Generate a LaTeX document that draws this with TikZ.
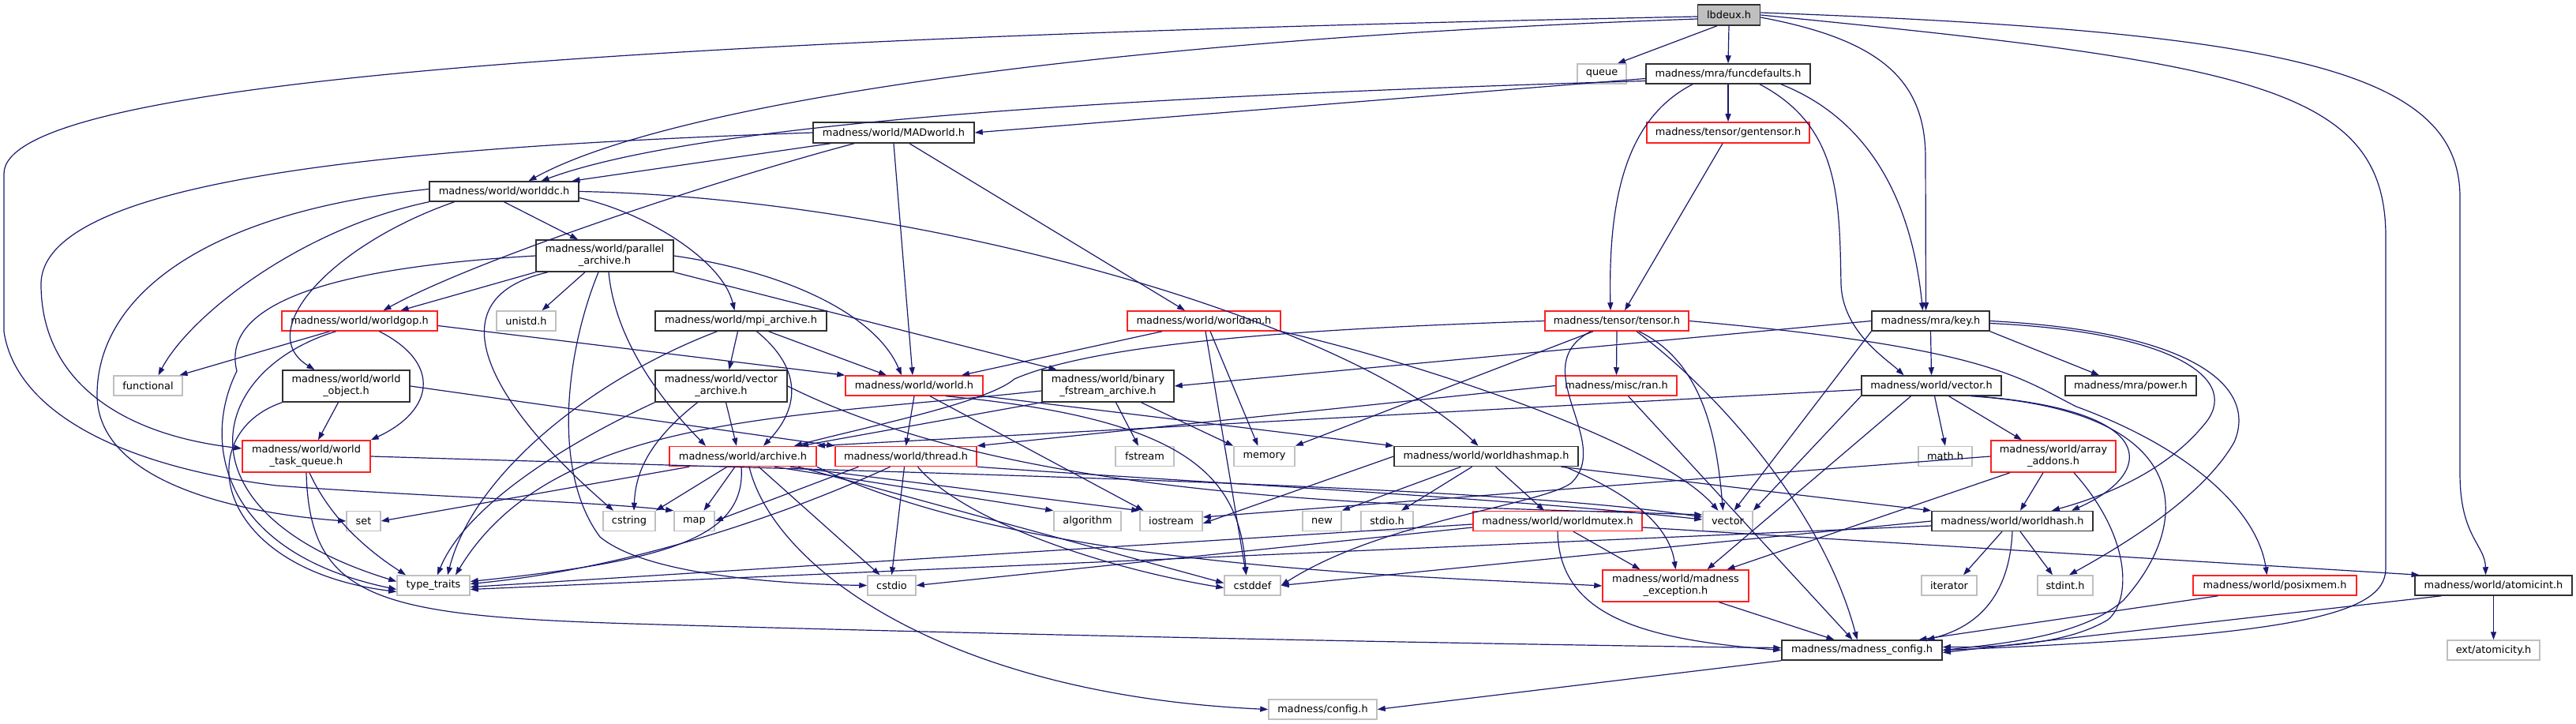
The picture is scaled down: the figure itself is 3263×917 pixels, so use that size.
\documentclass[tikz,border=0pt]{standalone}
\usepackage{fontspec}
\setmainfont{DejaVu Sans}
\usetikzlibrary{arrows.meta}
\definecolor{edgec}{HTML}{191970}
\definecolor{grayb}{HTML}{BFBFBF}
\definecolor{blackb}{HTML}{303030}
\definecolor{redb}{HTML}{FF2020}
\newcommand{\hnode}[6]{\node[#1,minimum width=#2pt,minimum height=#3pt] (#4) at (#5) {#6};}
\begin{document}
\begin{tikzpicture}[x=1pt,y=-1pt,
  box/.style={draw=blackb, line width=1.5pt, fill=white, inner sep=0pt, align=center,
    font=\fontsize{12.9}{15}\selectfont, text=black},
  bk/.style={box},
  rd/.style={box, draw=redb},
  gy/.style={box, draw=grayb},
  rt/.style={box, fill=grayb},
  e/.style={draw=edgec, line width=1.2pt, -{Triangle[length=10pt,width=7pt]}},
]
\useasboundingbox (0,0) rectangle (3263,917);
\fill[white] (0,0) rectangle (3263,917);

% ---------- nodes ----------
\hnode{rt}{79}{26}{lb}{2190,19}{lbdeux.h}
\hnode{gy}{62}{25}{queue}{2029,93.5}{queue}
\hnode{bk}{208}{25}{fd}{2189,93.5}{madness/mra/funcdefaults.h}
\hnode{bk}{204}{26}{mad}{1132,168}{madness/world/MADworld.h}
\hnode{rd}{206}{26}{gt}{2189,168}{madness/tensor/gentensor.h}
\hnode{bk}{189}{25}{wdc}{638.5,242.5}{madness/world/worlddc.h}
\hnode{bk}{174}{40}{par}{766,324}{madness/world/parallel\\\_archive.h}
\hnode{rd}{197}{25}{gop}{455.5,406.5}{madness/world/worldgop.h}
\hnode{gy}{75}{25}{unistd}{666.5,406.5}{unistd.h}
\hnode{bk}{217}{25}{mpi}{938.5,406.5}{madness/world/mpi\_archive.h}
\hnode{rd}{194}{25}{wam}{1525,406.5}{madness/world/worldam.h}
\hnode{rd}{182}{25}{tensor}{2048,406.5}{madness/tensor/tensor.h}
\hnode{bk}{149}{25}{key}{2445.5,406.5}{madness/mra/key.h}
\hnode{gy}{87}{25}{functional}{187.5,488.5}{functional}
\hnode{bk}{161}{40}{wobj}{438.5,489}{madness/world/world\\\_object.h}
\hnode{bk}{167}{40}{vecarch}{913.5,489}{madness/world/vector\\\_archive.h}
\hnode{rd}{174}{25}{world}{1158,488.5}{madness/world/world.h}
\hnode{bk}{167}{40}{bfa}{1403.5,489}{madness/world/binary\\\_fstream\_archive.h}
\hnode{rd}{153}{25}{ran}{2047.5,488.5}{madness/misc/ran.h}
\hnode{bk}{177}{25}{wvec}{2446.5,488.5}{madness/world/vector.h}
\hnode{bk}{166}{25}{power}{2699,488.5}{madness/mra/power.h}
\hnode{rd}{162}{40}{wtq}{388,578}{madness/world/world\\\_task\_queue.h}
\hnode{rd}{186}{25}{archive}{941,578}{madness/world/archive.h}
\hnode{rd}{179}{25}{thread}{1147.5,578}{madness/world/thread.h}
\hnode{gy}{74}{25}{fstream}{1450,578}{fstream}
\hnode{gy}{77}{25}{memory}{1601.5,578}{memory}
\hnode{bk}{233}{25}{whm}{1882.5,578}{madness/world/worldhashmap.h}
\hnode{gy}{68}{25}{mathh}{2464,578}{math.h}
\hnode{rd}{158}{40}{aa}{2601,578}{madness/world/array\\\_addons.h}
\hnode{gy}{43}{25}{set}{460.5,660}{set}
\hnode{gy}{66}{25}{cstring}{797,660}{cstring}
\hnode{gy}{51}{25}{map}{879.5,660}{map}
\hnode{gy}{85}{25}{algorithm}{1377.5,660}{algorithm}
\hnode{gy}{79}{25}{iostream}{1483.5,660}{iostream}
\hnode{gy}{49}{25}{new}{1674.5,660}{new}
\hnode{gy}{66}{25}{stdioh}{1757,660}{stdio.h}
\hnode{rd}{214}{25}{mutex}{1973,660}{madness/world/worldmutex.h}
\hnode{gy}{63}{25}{vector}{2188.5,660}{vector}
\hnode{bk}{204}{25}{whash}{2549,660}{madness/world/worldhash.h}
\hnode{gy}{92}{25}{tt}{549,741.5}{type\_traits}
\hnode{gy}{61}{25}{cstdio}{1129.5,741.5}{cstdio}
\hnode{gy}{71}{25}{cstddef}{1586.5,741.5}{cstddef}
\hnode{rd}{185}{40}{mexc}{2122.5,742}{madness/world/madness\\\_exception.h}
\hnode{gy}{70}{25}{iterator}{2469,741.5}{iterator}
\hnode{gy}{70}{25}{stdint}{2616,741.5}{stdint.h}
\hnode{rd}{207}{25}{posix}{2881.5,741.5}{madness/world/posixmem.h}
\hnode{bk}{199}{25}{atomic}{3158.5,741.5}{madness/world/atomicint.h}
\hnode{bk}{203}{25}{mcfg}{2358.5,823.5}{madness/madness\_config.h}
\hnode{gy}{137}{25}{cfg}{1675.5,898.5}{madness/config.h}
\hnode{gy}{117}{25}{extat}{3158.5,823.5}{ext/atomicity.h}

% ---------- edges ----------
% lbdeux.h
\draw[e] ([xshift=-15pt]lb.south) -- ([xshift=20pt]queue.north);
\draw[e] (lb.south) -- (fd.north);
\draw[e] ([yshift=-2pt]lb.west) .. controls (700,50) and (5,110) .. (5,220) -- (5,420) .. controls (20,520) and (150,590) .. (350,615) .. controls (550,630) and (750,635) .. (map.north west);
\draw[e] ([yshift=-5pt]lb.west) .. controls (1400,50) and (850,130) .. ([xshift=31pt]wdc.north);
\draw[e] ([yshift=-3pt]lb.east) .. controls (2380,50) and (2439,100) .. (2439,200) -- ([xshift=-6pt]key.north);
\draw[e] ([yshift=3pt]lb.east) .. controls (2900,40) and (3116,90) .. (3116,250) -- (3116,600) .. controls (3116,680) and (3148,690) .. ([xshift=-10pt]atomic.north);
\draw[e] (lb.east) .. controls (2850,80) and (3022,110) .. (3022,300) -- (3022,720) .. controls (3022,780) and (2900,805) .. (mcfg.east);
% funcdefaults.h
\draw[e] ([yshift=-6pt]fd.west) -- (mad.east);
\draw[e] ([yshift=-9pt]fd.west) .. controls (1500,120) and (900,150) .. ([xshift=47pt]wdc.north);
\draw[e] (fd.south) -- (gt.north);
\draw[e] ([xshift=-45pt]fd.south) .. controls (2060,150) and (2037,250) .. ([xshift=-8pt]tensor.north);
\draw[e] ([xshift=40pt]fd.south) .. controls (2330,160) and (2330,250) .. (2332,360) .. controls (2334,420) and (2390,455) .. ([xshift=-35pt]wvec.north);
\draw[e] ([xshift=67pt]fd.south) .. controls (2390,160) and (2425,290) .. ([xshift=-10pt]key.north);
\draw[e] ([xshift=-7pt]gt.south) -- ([xshift=10pt]tensor.north);
% MADworld.h
\draw[e] ([xshift=-80pt]mad.south) -- ([xshift=86pt]wdc.north);
\draw[e] ([xshift=-50pt]mad.south) .. controls (900,230) and (600,330) .. ([xshift=30pt]gop.north);
\draw[e] (mad.south) -- ([xshift=-2pt]world.north);
\draw[e] ([xshift=20pt]mad.south) -- ([xshift=-24pt]wam.north);
\draw[e] (mad.west) .. controls (550,185) and (52,220) .. (52,360) .. controls (52,480) and (150,550) .. ([yshift=10pt]wtq.west);
% worlddc.h
\draw[e] (wdc.south) -- ([xshift=-34pt]par.north);
\draw[e] (wdc.east) .. controls (1150,250) and (1700,400) .. ([xshift=-10pt]whm.north);
\draw[e] ([yshift=-8pt]wdc.east) .. controls (820,270) and (915,330) .. ([xshift=-8pt]mpi.north);
\draw[e] ([yshift=3pt]wdc.west) .. controls (250,270) and (123,380) .. (123,500) .. controls (123,610) and (300,650) .. (set.west);
\draw[e] (wdc.south west) .. controls (380,290) and (240,400) .. ([xshift=13pt]functional.north);
\draw[e] ([xshift=-63pt]wdc.south) .. controls (420,310) and (320,420) .. ([xshift=-40pt]wobj.north);
% parallel_archive.h
\draw[e] (par.south west) -- ([xshift=52pt]gop.north);
\draw[e] ([xshift=-25pt]par.south) -- ([xshift=20pt]unistd.north);
\draw[e] ([xshift=-72pt]par.south) .. controls (540,380) and (630,520) .. ([xshift=-20pt]cstring.north);
\draw[e] ([xshift=-8pt]par.south) .. controls (715,450) and (700,600) .. (760,680) .. controls (820,730) and (1000,740) .. (cstdio.west);
\draw[e] ([xshift=5pt]par.south) .. controls (780,440) and (850,520) .. ([xshift=-47pt]archive.north);
\draw[e] (par.west) .. controls (400,340) and (280,390) .. (300,470) .. controls (255,560) and (280,700) .. ([yshift=-5pt]tt.west);
\draw[e] (par.east) .. controls (1000,345) and (1110,400) .. ([xshift=-16pt]world.north);
\draw[e] (par.south east) -- ([xshift=-65pt]bfa.north);
% worldgop.h
\draw[e] ([xshift=-38pt]gop.south) -- ([xshift=40pt]functional.north);
\draw[e] ([xshift=-30pt]gop.south) .. controls (260,470) and (220,650) .. ([yshift=5pt]tt.west);
\draw[e] ([xshift=25pt]gop.south) .. controls (560,460) and (550,520) .. (wtq.north east);
\draw[e] ([yshift=-6pt]gop.east) -- (world.north west);
% mpi_archive.h
\draw[e] ([xshift=-4pt]mpi.south) -- ([xshift=10pt]vecarch.north);
\draw[e] ([xshift=20pt]mpi.south) .. controls (1020,470) and (1010,520) .. ([xshift=26pt]archive.north);
\draw[e] ([xshift=35pt]mpi.south) -- ([xshift=-35pt]world.north);
\draw[e] ([xshift=-30pt]mpi.south) .. controls (750,480) and (600,600) .. ([xshift=18pt]tt.north);
% worldam.h
\draw[e] ([xshift=-53pt]wam.south) -- ([xshift=60pt]world.north);
\draw[e] ([xshift=8pt]wam.south) -- ([xshift=-8pt]memory.north);
\draw[e] ([xshift=2pt]wam.south) -- ([xshift=-8pt]cstddef.north);
\draw[e] (wam.south east) .. controls (1800,460) and (2100,560) .. ([xshift=-12pt]vector.north);
% tensor.h
\draw[e] (tensor.west) .. controls (1700,415) and (1400,430) .. (1285,480) .. controls (1250,510) and (1100,540) .. ([xshift=65pt]archive.north);
\draw[e] (tensor.south) -- (ran.north);
\draw[e] ([xshift=-30pt]tensor.south) -- (memory.north east);
\draw[e] ([xshift=-33pt]tensor.south) .. controls (1930,465) and (2045,560) .. (1990,612) .. controls (1950,640) and (1750,660) .. (cstddef.east);
\draw[e] ([xshift=28pt]tensor.south) .. controls (2160,460) and (2175,560) .. ([xshift=-6pt]vector.north);
\draw[e] ([xshift=25pt]tensor.south) .. controls (2180,500) and (2310,650) .. ([xshift=-6pt]mcfg.north);
\draw[e] (tensor.east) .. controls (2520,440) and (2560,480) .. (2630,515) .. controls (2780,570) and (2860,650) .. ([xshift=-10pt]posix.north);
% key.h
\draw[e] (key.south) -- (wvec.north);
\draw[e] (key.south east) -- ([xshift=-40pt]power.north);
\draw[e] (key.west) -- (bfa.east);
\draw[e] (key.south west) -- ([xshift=8pt]vector.north);
\draw[e] ([yshift=-3pt]key.east) .. controls (2750,420) and (2845,480) .. (2790,540) .. controls (2740,600) and (2660,630) .. ([xshift=50pt]whash.north);
\draw[e] (key.east) .. controls (2780,420) and (2860,490) .. (2830,560) .. controls (2790,630) and (2690,690) .. ([xshift=5pt]stdint.north);
% vector.h
\draw[e] ([xshift=4pt]wvec.south) -- (mathh.north);
\draw[e] ([xshift=22pt]wvec.south) -- ([xshift=-40pt]aa.north);
\draw[e] ([xshift=56pt]wvec.south) .. controls (2740,520) and (2730,600) .. ([xshift=75pt]whash.north);
\draw[e] ([xshift=50pt]wvec.south) .. controls (2780,520) and (2780,660) .. (2690,760) .. controls (2640,805) and (2540,815) .. (mcfg.east);
\draw[e] (wvec.south west) -- (vector.north east);
\draw[e] ([xshift=-26pt]wvec.south) -- ([xshift=40pt]mexc.north);
\draw[e] ([yshift=-5pt]wvec.west) -- (archive.north east);
% array_addons.h
\draw[e] ([xshift=-13pt]aa.south) -- ([xshift=10pt]whash.north);
\draw[e] ([xshift=26pt]aa.south) .. controls (2700,680) and (2700,760) .. (2670,785) .. controls (2620,815) and (2540,820) .. ([yshift=4pt]mcfg.east);
\draw[e] ([xshift=-55pt]aa.south) -- ([xshift=65pt]mexc.north);
\draw[e] (aa.west) -- ([yshift=5pt]iostream.east);
% worldhashmap.h
\draw[e] ([xshift=-32pt]whm.south) -- (new.north east);
\draw[e] ([xshift=-18pt]whm.south) -- ([xshift=18pt]stdioh.north);
\draw[e] ([xshift=12pt]whm.south) -- ([xshift=-17pt]mutex.north);
\draw[e] ([xshift=100pt]whm.south) .. controls (2075,630) and (2115,670) .. (mexc.north);
\draw[e] ([xshift=95pt]whm.south) -- (whash.north west);
\draw[e] (whm.west) -- ([yshift=-3pt]iostream.east);
% worldmutex.h
\draw[e] ([yshift=-8pt]mutex.west) -- (cstdio.east);
\draw[e] ([yshift=-4pt]mutex.west) -- ([yshift=-2pt]tt.east);
\draw[e] ([xshift=20pt]mutex.south) -- ([xshift=-45pt]mexc.north);
\draw[e] (mutex.south) .. controls (1975,780) and (2080,810) .. (mcfg.west);
\draw[e] ([yshift=-8pt]mutex.east) -- ([xshift=-94pt]atomic.north);
% worldhash.h
\draw[e] ([xshift=-13pt]whash.south) -- ([xshift=18pt]iterator.north);
\draw[e] ([xshift=10pt]whash.south) -- ([xshift=-16pt]stdint.north);
\draw[e] (whash.south) .. controls (2545,760) and (2500,795) .. ([xshift=82pt]mcfg.north);
\draw[e] (whash.west) -- (cstddef.east);
\draw[e] ([yshift=-6pt]whash.west) -- ([yshift=-5pt]tt.east);
% leaves into madness_config.h
\draw[e] ([xshift=55pt]mexc.south) -- ([xshift=-35pt]mcfg.north);
\draw[e] ([xshift=-72pt]posix.south) -- ([xshift=72pt]mcfg.north);
\draw[e] ([xshift=-66pt]atomic.south) -- ([yshift=-3pt]mcfg.east);
\draw[e] (atomic.south) -- (extat.north);
\draw[e] (mcfg.south west) -- (cfg.east);
% world_task_queue.h
\draw[e] ([xshift=4pt]wtq.south) .. controls (420,660) and (470,700) .. ([xshift=-35pt]tt.north);
\draw[e] (wtq.south) .. controls (392,760) and (480,780) .. (800,790) .. controls (1300,805) and (2000,818) .. ([yshift=3pt]mcfg.west);
\draw[e] (wtq.east) .. controls (1200,600) and (1900,615) .. ([yshift=5pt]vector.west);
% world_object.h
\draw[e] ([xshift=-10pt]wobj.south) -- ([xshift=15pt]wtq.north);
\draw[e] (wobj.south west) .. controls (240,550) and (270,720) .. ([yshift=-8pt]tt.west);
\draw[e] (wobj.east) -- (thread.north west);
% vector_archive.h
\draw[e] ([xshift=6pt]vecarch.south) -- ([xshift=-8pt]archive.north);
\draw[e] ([xshift=-30pt]vecarch.south) .. controls (820,560) and (805,600) .. ([xshift=6pt]cstring.north);
\draw[e] (vecarch.south west) .. controls (720,560) and (590,640) .. ([xshift=5pt]tt.north);
\draw[e] (vecarch.east) .. controls (1300,640) and (1800,640) .. ([yshift=8pt]vector.west);
% binary_fstream_archive.h
\draw[e] ([xshift=10pt]bfa.south) -- ([xshift=-8pt]fstream.north);
\draw[e] ([xshift=42pt]bfa.south) -- (memory.north west);
\draw[e] (bfa.south west) -- ([xshift=73pt]archive.north);
\draw[e] ([yshift=-6pt]bfa.west) .. controls (1000,530) and (700,525) .. ([xshift=28pt]tt.north);
% world.h
\draw[e] (world.south) -- (thread.north);
\draw[e] ([xshift=20pt]world.south) -- ([xshift=-35pt]iostream.north);
\draw[e] ([xshift=40pt]world.south) .. controls (1500,530) and (1570,600) .. ([xshift=-8pt]cstddef.north);
\draw[e] (world.south east) -- (whm.north west);
% thread.h
\draw[e] ([xshift=-20pt]thread.south) .. controls (1000,650) and (800,720) .. ([yshift=2pt]tt.east);
\draw[e] ([xshift=-60pt]thread.south) -- (map.east);
\draw[e] ([xshift=-2pt]thread.south) -- (cstdio.north);
\draw[e] ([xshift=15pt]thread.south) .. controls (1220,660) and (1400,720) .. ([yshift=-3pt]cstddef.west);
\draw[e] (thread.south east) .. controls (1500,610) and (1900,630) .. ([yshift=2pt]vector.west);
% archive.h
\draw[e] ([xshift=-68pt]archive.south) -- (set.east);
\draw[e] ([xshift=-20pt]archive.south) -- (cstring.north east);
\draw[e] ([xshift=-10pt]archive.south) -- ([xshift=12pt]map.north);
\draw[e] ([xshift=-2pt]archive.south) .. controls (945,680) and (850,710) .. ([yshift=5pt]tt.east);
\draw[e] ([xshift=8pt]archive.south) .. controls (980,720) and (1200,880) .. (cfg.west);
\draw[e] ([xshift=20pt]archive.south) -- ([xshift=-15pt]cstdio.north);
\draw[e] ([xshift=40pt]archive.south) -- (algorithm.north west);
\draw[e] ([xshift=60pt]archive.south) -- (iostream.north west);
\draw[e] ([xshift=70pt]archive.south) -- ([yshift=3pt]cstddef.west);
\draw[e] (archive.south east) .. controls (1300,720) and (1800,730) .. (mexc.west);
% ran.h
\draw[e] (ran.west) -- (thread.north east);
\draw[e] ([xshift=15pt]ran.south) -- ([xshift=-12pt]mcfg.north);
\end{tikzpicture}
\end{document}
